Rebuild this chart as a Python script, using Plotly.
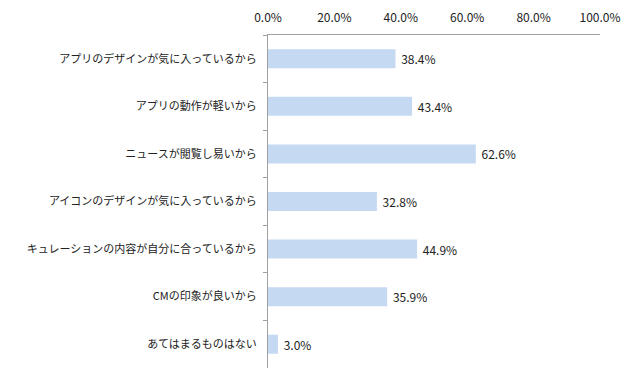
import plotly.graph_objects as go

categories = [
    "アプリのデザインが気に入っているから",
    "アプリの動作が軽いから",
    "ニュースが閲覧し易いから",
    "アイコンのデザインが気に入っているから",
    "キュレーションの内容が自分に合っているから",
    "CMの印象が良いから",
    "あてはまるものはない",
]
values = [38.4, 43.4, 62.6, 32.8, 44.9, 35.9, 3.0]
x_ticks = [0, 20, 40, 60, 80, 100]
x_tick_labels = ["0.0%", "20.0%", "40.0%", "60.0%", "80.0%", "100.0%"]

font = "Noto Sans CJK JP, Noto Sans, sans-serif"

fig = go.Figure(go.Bar(
    x=values,
    y=categories,
    orientation="h",
    marker=dict(color="#c6d9f3", line=dict(width=0)),
    text=["\u00a0" + f"{v:.1f}%" for v in values],
    textposition="outside",
    textfont=dict(size=12, color="#222222", family=font),
    cliponaxis=False,
))

fig.update_layout(
    width=632,
    height=374,
    margin=dict(l=260, r=40, t=27, b=14, autoexpand=False),
    paper_bgcolor="white",
    plot_bgcolor="white",
    bargap=0.6,
    showlegend=False,
    font=dict(family=font, color="#222222"),
    xaxis=dict(
        side="top",
        range=[0, 100],
        tickvals=x_ticks,
        ticktext=x_tick_labels,
        showgrid=False,
        zeroline=False,
        showline=True,
        linecolor="#a0a0a0",
        linewidth=1,
        ticks="",
        automargin=False,
        ticklabelstandoff=7,
        tickfont=dict(size=12, color="#222222"),
    ),
    yaxis=dict(
        autorange="reversed",
        showgrid=False,
        zeroline=False,
        showline=True,
        linecolor="#a0a0a0",
        linewidth=1,
        ticks="outside",
        tickson="boundaries",
        ticklen=4,
        tickcolor="#a0a0a0",
        automargin=False,
        ticklabelstandoff=8,
        tickfont=dict(size=11, color="#222222"),
    ),
)

fig.write_html("out.html")
